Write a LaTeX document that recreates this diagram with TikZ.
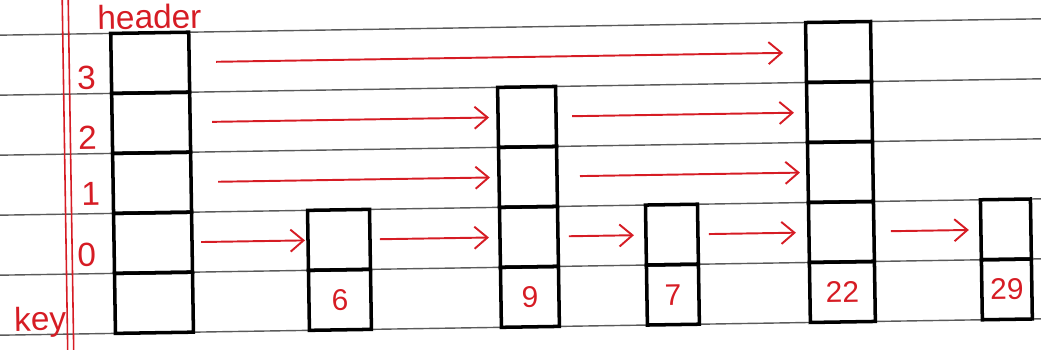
\documentclass[tikz,border=0pt]{standalone}
\usepackage{fontspec}
\setmainfont{Liberation Sans}
\usepackage{xcolor}
\usetikzlibrary{arrows.meta,positioning}
\definecolor{ink}{RGB}{214,28,36}
\definecolor{ruled}{RGB}{90,90,90}

\begin{document}
\begin{tikzpicture}[
  cell/.style={rectangle, draw, line width=2pt, minimum height=1.2cm, inner sep=0pt, outer sep=0pt, text=ink, font=\fontsize{17}{20}\selectfont},
  lbl/.style={text=ink, inner sep=1pt, font=\fontsize{19}{22}\selectfont},
  arrow/.style={-{Straight Barb[length=2.6mm,width=4.4mm]}, ink, line width=1.1pt, shorten <=0.3cm, shorten >=0.24cm}
]
\useasboundingbox (0,0) rectangle (20.82,6.98);
\clip (0,0) rectangle (20.82,6.98);
\begin{scope}[rotate around={0.9:(10.41,3.49)}, transform shape]
% ruled paper and margin
\foreach \y in {0.44,1.64,2.84,4.04,5.24,6.44}
  \draw[ruled, line width=0.8pt] (-1,\y) -- (22,\y);
\draw[ink, line width=0.9pt] (1.30,-1) -- (1.30,8);
\draw[ink, line width=0.9pt] (1.42,-1) -- (1.42,8);

% header tower
\node[cell, minimum width=1.56cm, anchor=south west] (hk) at (2.26,0.44) {};
\node[cell, minimum width=1.56cm, above=0pt of hk] (h0) {};
\node[cell, minimum width=1.56cm, above=0pt of h0] (h1) {};
\node[cell, minimum width=1.56cm, above=0pt of h1] (h2) {};
\node[cell, minimum width=1.56cm, above=0pt of h2] (h3) {};

% towers
\node[cell, minimum width=1.24cm, anchor=south west] (n6k) at (6.14,0.44) {6};
\node[cell, minimum width=1.24cm, above=0pt of n6k] (n6-0) {};

\node[cell, minimum width=1.16cm, anchor=south west] (n9k) at (9.98,0.44) {9};
\node[cell, minimum width=1.16cm, above=0pt of n9k] (n9-0) {};
\node[cell, minimum width=1.16cm, above=0pt of n9-0] (n9-1) {};
\node[cell, minimum width=1.16cm, above=0pt of n9-1] (n9-2) {};

\node[cell, minimum width=1.04cm, anchor=south west] (n7k) at (12.9,0.44) {7};
\node[cell, minimum width=1.04cm, above=0pt of n7k] (n7-0) {};

\node[cell, minimum width=1.3cm, anchor=south west] (n22k) at (16.16,0.44) {22};
\node[cell, minimum width=1.3cm, above=0pt of n22k] (n22-0) {};
\node[cell, minimum width=1.3cm, above=0pt of n22-0] (n22-1) {};
\node[cell, minimum width=1.3cm, above=0pt of n22-1] (n22-2) {};
\node[cell, minimum width=1.3cm, above=0pt of n22-2] (n22-3) {};

\node[cell, minimum width=1.0cm, anchor=south west] (n29k) at (19.6,0.44) {29};
\node[cell, minimum width=1.0cm, above=0pt of n29k] (n29-0) {};

% labels
\node[lbl, above=1pt of h3] (hdr) {header};
\node[lbl] (lv3) at ([xshift=-0.5cm, yshift=0.32cm]h3.south west) {3};
\node[lbl] (lv2) at ([xshift=-0.5cm, yshift=0.32cm]h2.south west) {2};
\node[lbl] (lv1) at ([xshift=-0.45cm, yshift=0.4cm]h1.south west) {1};
\node[lbl] (lv0) at ([xshift=-0.55cm, yshift=0.38cm]h0.south west) {0};
\node[lbl] (keylbl) at ([xshift=-1.5cm, yshift=0.25cm]hk.south west) {key};

% pointers
\draw[arrow, shorten <=0.54cm, shorten >=0.46cm] (h3.east) -- (n22-3.west);
\draw[arrow, shorten <=0.44cm, shorten >=0.18cm] (h2.east) -- (n9-2.west);
\draw[arrow, shorten <=0.32cm, shorten >=0.26cm] (n9-2.east) -- (n22-2.west);
\draw[arrow, shorten <=0.54cm, shorten >=0.18cm] (h1.east) -- (n9-1.west);
\draw[arrow, shorten <=0.46cm, shorten >=0.16cm] (n9-1.east) -- (n22-1.west);
\draw[arrow, shorten <=0.18cm, shorten >=0.06cm] (h0.east) -- (n6-0.west);
\draw[arrow, shorten <=0.2cm, shorten >=0.22cm] (n6-0.east) -- (n9-0.west);
\draw[arrow, shorten <=0.22cm] (n9-0.east) -- (n7-0.west);
\draw[arrow, shorten <=0.22cm, shorten >=0.26cm] (n7-0.east) -- (n22-0.west);
\draw[arrow, shorten <=0.34cm] (n22-0.east) -- (n29-0.west);
\end{scope}
\end{tikzpicture}
\end{document}
